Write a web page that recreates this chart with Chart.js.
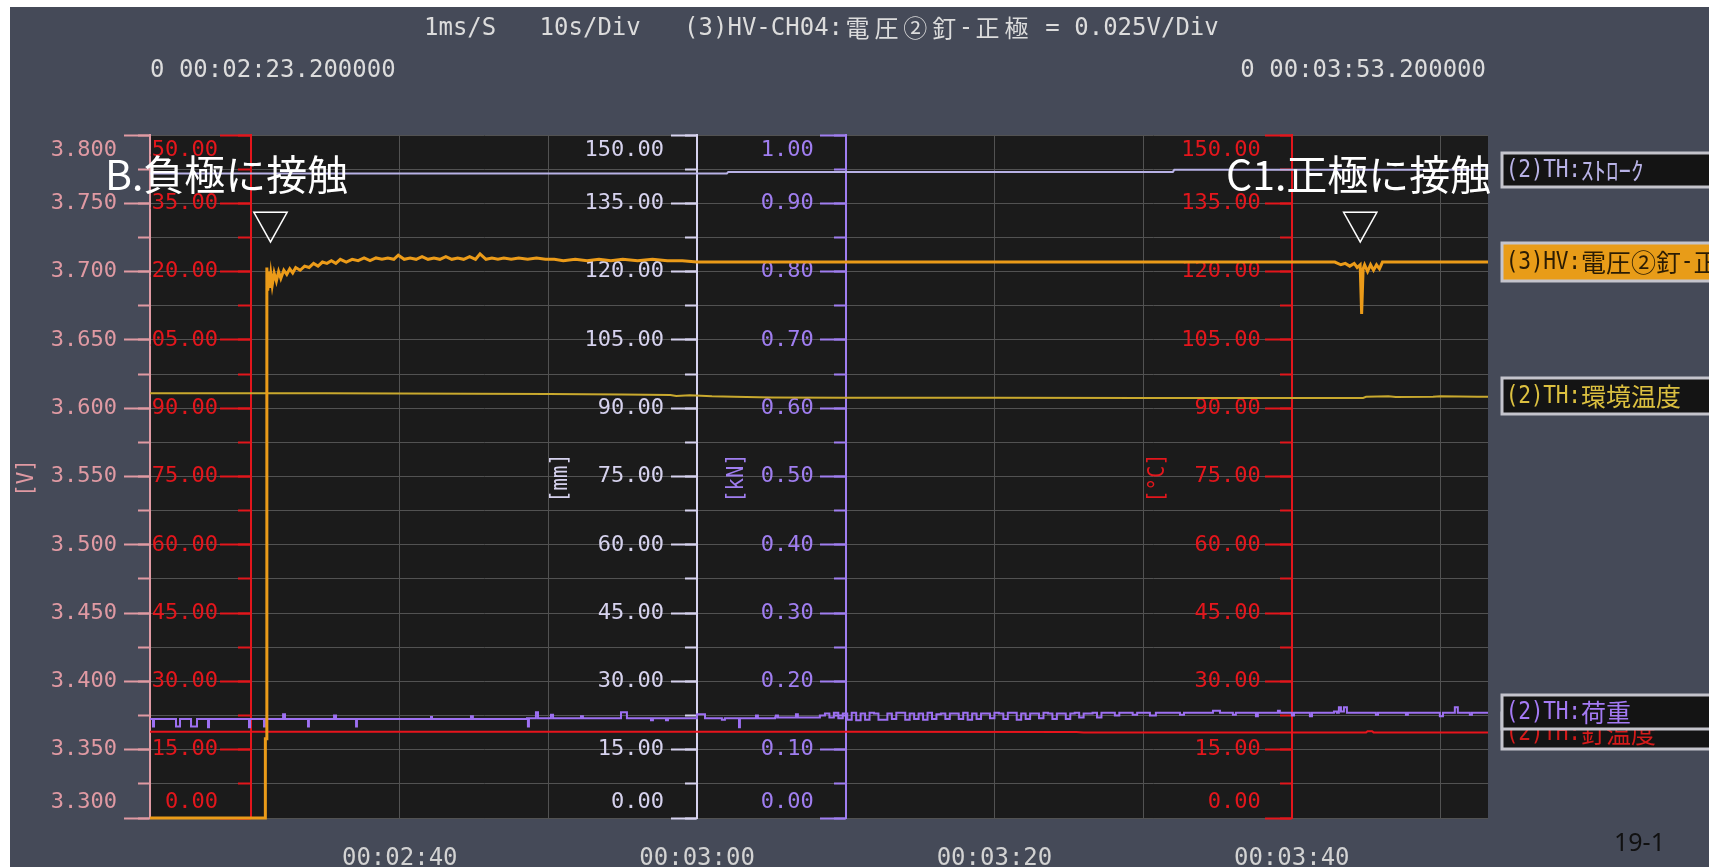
<!DOCTYPE html>
<html><head><meta charset="utf-8">
<script src="https://cdn.jsdelivr.net/npm/chart.js@4.4.1/dist/chart.umd.min.js"></script>
<style>html,body{margin:0;padding:0;background:#454a58;overflow:hidden}canvas{display:block}</style>
</head><body>
<canvas id="c" width="1709" height="867" style="width:1709px;height:867px"></canvas>
<script>
// ---------------- data ----------------
const timeStart = 143.2, timeEnd = 233.2;               // seconds (00:02:23.2 .. 00:03:53.2)
const xGridValues = [150, 160, 170, 180, 190, 200, 210, 220, 230];
const xTickValues = [160, 180, 200, 220];
const xTickLabels = ['00:02:40', '00:03:00', '00:03:20', '00:03:40'];

const headerLine = '1ms/S   10s/Div   (3)HV-CH04:電圧②釘-正極 = 0.025V/Div';
const startLabel = '0 00:02:23.200000';
const endLabel = '0 00:03:53.200000';
const eventLabels = ['B.負極に接触', 'C1.正極に接触'];
const eventTimes = [151.3, 224.6];
const legendNames = ['(2)TH:ｽﾄﾛｰｸ', '(3)HV:電圧②釘-正極', '(2)TH:環境温度', '(2)TH:荷重', '(2)TH:釘温度'];
const axisUnits = ['[V]', '[mm]', '[kN]', '[°C]'];
const pageLabel = '19-1';

// (3)HV 電圧②釘-正極 [V]
const hvTime = [
  143.2, 150.95, 150.96, 151.05, 151.06, 151.12, 151.18, 151.25, 151.33, 151.42,
  151.55, 151.7, 151.85, 152.0, 152.2, 152.4, 152.6, 152.8, 153.0, 153.3,
  153.6, 153.9, 154.2, 154.5, 154.8, 155.1, 155.4, 155.7, 156.0, 156.4,
  156.8, 157.2, 157.6, 158.0, 158.4, 158.8, 159.2, 159.6, 159.9, 160.3,
  160.7, 161.1, 161.5, 161.9, 162.3, 162.7, 163.1, 163.5, 163.9, 164.3,
  164.7, 165.1, 165.4, 165.8, 166.2, 166.6, 167.0, 167.5, 168.0, 168.6,
  169.2, 169.8, 170.4, 171.0, 171.8, 172.6, 173.4, 174.2, 175.0, 176.0,
  177.0, 178.0, 179.0, 180.0, 190.0, 200.0, 210.0, 222.9, 223.3, 223.6,
  223.9, 224.2, 224.4, 224.6, 224.7, 224.8, 224.9, 225.1, 225.3, 225.5,
  225.7, 225.9, 226.1, 226.4, 233.2];
const hvVolt = [
  3.300, 3.300, 3.358, 3.358, 3.703, 3.686, 3.700, 3.688, 3.698, 3.690,
  3.699, 3.693, 3.700, 3.695, 3.701, 3.698, 3.702, 3.699, 3.703, 3.701,
  3.704, 3.703, 3.706, 3.704, 3.707, 3.706, 3.708, 3.706, 3.709, 3.707,
  3.709, 3.708, 3.710, 3.708, 3.710, 3.709, 3.710, 3.709, 3.712, 3.709,
  3.710, 3.709, 3.711, 3.709, 3.710, 3.709, 3.711, 3.709, 3.710, 3.709,
  3.711, 3.709, 3.713, 3.709, 3.710, 3.709, 3.710, 3.709, 3.710, 3.709,
  3.710, 3.709, 3.709, 3.708, 3.709, 3.708, 3.709, 3.708, 3.709, 3.708,
  3.709, 3.708, 3.708, 3.707, 3.707, 3.707, 3.707, 3.707, 3.705, 3.706,
  3.704, 3.706, 3.703, 3.705, 3.669, 3.702, 3.705, 3.700, 3.705, 3.701,
  3.705, 3.702, 3.707, 3.707, 3.707];

// (2)TH ストローク [mm]
const strokeTime = [143.2, 182.0, 182.1, 212.0, 212.1, 233.2];
const strokeMM = [141.55, 141.55, 141.9, 141.9, 142.35, 142.35];

// (2)TH 環境温度 [°C]
const ambTime = [143.2, 155.0, 160.0, 165.0, 170.0, 175.0, 178.2, 178.6, 179.5, 181.0, 182.5, 185.0,
  190.0, 200.0, 210.0, 220.0, 224.8, 225.0, 226.5, 227.0, 229.5, 230.0, 232.5, 233.2];
const ambTemp = [93.3, 93.3, 93.25, 93.15, 93.1, 93.0, 92.9, 92.7, 92.85, 92.6, 92.5, 92.35,
  92.3, 92.3, 92.25, 92.25, 92.25, 92.5, 92.6, 92.45, 92.5, 92.6, 92.5, 92.5];

// (2)TH 荷重 [kN]
const loadTime = [
  143.20, 143.33, 143.40, 143.47, 144.88, 144.95, 145.15, 145.22, 145.89, 145.96,
  146.29, 146.36, 147.03, 147.10, 147.17, 149.79, 149.86, 149.93, 150.80, 150.87,
  150.93, 152.08, 152.15, 152.28, 153.76, 153.83, 153.89, 155.51, 155.58, 155.71,
  156.99, 157.06, 157.12, 160.02, 162.03, 162.10, 162.17, 164.72, 164.79, 164.92,
  168.56, 168.62, 168.69, 169.10, 169.16, 169.30, 170.10, 170.17, 170.31, 172.12,
  172.19, 172.32, 174.81, 174.88, 175.22, 175.28, 176.83, 176.90, 177.03, 177.84,
  177.91, 178.04, 179.86, 179.99, 180.46, 180.53, 181.54, 181.67, 181.87, 182.75,
  182.82, 182.88, 183.89, 183.96, 184.09, 185.24, 185.30, 185.44, 186.58, 186.65,
  186.78, 186.92, 188.26, 188.6, 188.9, 189.2, 189.5, 189.8, 190.1, 190.4,
  190.7, 191.0, 191.3, 191.6, 191.9, 192.2, 192.5, 192.8, 193.1, 193.4,
  193.7, 194.0, 194.3, 194.6, 194.9, 195.2, 195.5, 195.8, 196.1, 196.4,
  196.7, 197.0, 197.3, 197.6, 197.9, 198.2, 198.5, 198.8, 199.1, 199.4,
  199.7, 200.0, 200.3, 200.6, 200.9, 201.2, 201.5, 201.8, 202.1, 202.4,
  202.7, 203.0, 203.3, 203.6, 203.9, 204.2, 204.5, 204.8, 205.1, 205.4,
  205.7, 206.0, 206.3, 206.6, 206.9, 207.2, 207.5, 207.8, 208.1, 208.4,
  208.7, 209.0, 209.3, 209.6, 209.9, 210.46, 210.86, 211.80, 212.48, 212.75,
  214.16, 214.70, 215.17, 215.84, 216.04, 216.24, 217.52, 217.59, 217.72, 218.87,
  219.07, 219.20, 219.88, 220.01, 220.15, 221.15, 221.22, 221.36, 222.57, 222.84,
  223.04, 223.17, 223.31, 223.51, 223.71, 225.59, 225.66, 225.80, 227.61, 227.68,
  227.81, 229.83, 229.96, 230.17, 230.77, 230.97, 231.17, 231.85, 231.98, 232.12,
  233.20];
const loadKN = [
  0.145, 0.145, 0.134, 0.145, 0.145, 0.134, 0.134, 0.145, 0.145, 0.134,
  0.134, 0.145, 0.145, 0.133, 0.145, 0.145, 0.133, 0.145, 0.145, 0.134,
  0.145, 0.145, 0.152, 0.145, 0.145, 0.134, 0.145, 0.145, 0.150, 0.145,
  0.145, 0.134, 0.145, 0.145, 0.145, 0.148, 0.145, 0.145, 0.149, 0.145,
  0.146, 0.134, 0.146, 0.146, 0.155, 0.146, 0.146, 0.151, 0.146, 0.146,
  0.149, 0.146, 0.146, 0.155, 0.155, 0.146, 0.146, 0.143, 0.146, 0.146,
  0.143, 0.146, 0.146, 0.152, 0.152, 0.146, 0.146, 0.144, 0.146, 0.146,
  0.133, 0.146, 0.146, 0.150, 0.146, 0.147, 0.150, 0.147, 0.147, 0.152,
  0.147, 0.147, 0.150, 0.153, 0.147, 0.154, 0.146, 0.153, 0.144, 0.154,
  0.143, 0.153, 0.144, 0.154, 0.153, 0.144, 0.144, 0.153, 0.145, 0.154,
  0.154, 0.144, 0.153, 0.145, 0.153, 0.144, 0.154, 0.145, 0.152, 0.153,
  0.145, 0.153, 0.153, 0.145, 0.154, 0.144, 0.153, 0.145, 0.153, 0.153,
  0.146, 0.154, 0.153, 0.145, 0.154, 0.154, 0.144, 0.153, 0.145, 0.153,
  0.153, 0.146, 0.154, 0.153, 0.145, 0.153, 0.153, 0.145, 0.153, 0.154,
  0.147, 0.153, 0.153, 0.154, 0.147, 0.154, 0.154, 0.154, 0.150, 0.154,
  0.154, 0.154, 0.151, 0.154, 0.154, 0.150, 0.154, 0.154, 0.151, 0.154,
  0.154, 0.157, 0.154, 0.154, 0.151, 0.154, 0.154, 0.149, 0.154, 0.154,
  0.157, 0.154, 0.154, 0.150, 0.154, 0.154, 0.149, 0.154, 0.154, 0.156,
  0.154, 0.162, 0.156, 0.162, 0.154, 0.154, 0.151, 0.154, 0.154, 0.151,
  0.154, 0.154, 0.149, 0.154, 0.154, 0.162, 0.154, 0.154, 0.151, 0.154,
  0.154];

// (2)TH 釘温度 [°C]
const nailTime = [143.2, 160.0, 190.0, 205.5, 206.0, 225.0, 225.1, 225.4, 225.5, 233.2];
const nailTemp = [18.95, 18.95, 18.95, 18.9, 18.8, 18.8, 19.05, 19.05, 18.8, 18.8];

// ---------------- styling ----------------
const W = 1709, H = 867;
const PAGE_BG = '#454a58', PLOT_BG = '#1b1b1b', GRID = '#525252';
const MONO = '"DejaVu Sans Mono", "Liberation Mono", monospace';
const CJK = '"Noto Sans CJK JP", "Noto Sans CJK SC", sans-serif';
const C_PINK = '#e09aa3', C_RED = '#e3161c', C_MM = '#d6d2ee', C_KN = '#a07ef0';
const C_HV = '#eb9b19', C_STROKE = '#b8b2e6', C_AMB = '#c9a92e', C_LOAD = '#9d70f2', C_NAIL = '#e8141c';

const clippedScales = new Set(['yT1']);
class EdgeScale extends Chart.LinearScale {
  _computeLabelItems(chartArea) {
    const items = super._computeLabelItems(chartArea);
    const shift = (this.options.grid.tickLength || 0) + (this.options.ticks.padding || 0);
    for (const it of items) {
      const tr = it.options.translation;
      let y = tr[1];
      if (Math.abs(y - this.top) < 1.5) y += 15;
      else if (Math.abs(y - this.bottom) < 1.5) y -= 16;
      it.options.translation = [tr[0] - shift, y];
      it.options.textAlign = 'right';
    }
    return items;
  }
  draw(chartArea) {
    if (clippedScales.has(this.id)) {
      const ctx = this.ctx;
      ctx.save();
      ctx.beginPath();
      ctx.rect(this.chart.chartArea.left, 0, W, H);
      ctx.clip();
      super.draw(chartArea);
      ctx.restore();
    } else {
      super.draw(chartArea);
    }
  }
}
EdgeScale.id = 'edgeLinear';
EdgeScale.defaults = Chart.LinearScale.defaults;
Chart.register(EdgeScale);

function majorAxis(at, min, max, step, color, tl, pad, digits) {
  return {
    type: 'edgeLinear', axis: 'y', position: {x: at}, min, max,
    ticks: {stepSize: step, color, padding: pad, font: {family: MONO, size: 22},
      maxTicksLimit: 1000, autoSkip: false, callback: v => Number(v).toFixed(digits)},
    grid: {drawOnChartArea: false, tickLength: tl, tickColor: color, tickWidth: 2, color},
    border: {display: true, color, width: 2}
  };
}
function minorAxis(at, min, max, step, color, tl, showGrid) {
  return {
    type: 'edgeLinear', axis: 'y', position: {x: at}, min, max,
    ticks: {stepSize: step, display: false, padding: 0, maxTicksLimit: 1000, autoSkip: false},
    grid: {drawOnChartArea: !!showGrid, color: GRID, lineWidth: 1, tickLength: tl, tickColor: color, tickWidth: 2},
    border: {display: false}
  };
}
function series(times, vals, axis, color, width, extra) {
  return Object.assign({
    data: times.map((t, i) => ({x: t, y: vals[i]})),
    xAxisID: 'x', yAxisID: axis, borderColor: color, borderWidth: width,
    pointRadius: 0, fill: false, tension: 0, clip: {left: 0, top: 0, right: 0, bottom: 3}
  }, extra || {});
}

// ---------- text helpers ----------
function isFull(c) { return (c >= 0x2460 && c <= 0x24FF) || (c >= 0x2E80 && c < 0xFF61) || (c > 0xFF9F && c <= 0xFFEF) || c >= 0x20000; }
function isHalfKana(c) { return c >= 0xFF61 && c <= 0xFF9F; }
function monoWidth(text, half) { let w = 0; for (const ch of text) w += isFull(ch.codePointAt(0)) ? 2 * half : half; return w; }
function drawMono(ctx, text, x, y, half, latin, cjk, sx) {
  sx = sx || 1;
  ctx.textAlign = 'center'; ctx.textBaseline = 'middle';
  let cx = x;
  for (const ch of text) {
    const c = ch.codePointAt(0);
    const full = isFull(c);
    const w = full ? 2 * half : half;
    const useCjk = full || isHalfKana(c);
    ctx.font = useCjk ? cjk : latin;
    ctx.save();
    ctx.translate(cx + w / 2, y);
    if (!useCjk) ctx.scale(sx, 1);
    ctx.fillText(ch, 0, 0);
    ctx.restore();
    cx += w;
  }
  return cx - x;
}

const framePlugin = {
  id: 'frame',
  beforeDraw(chart) {
    const {ctx, chartArea: a} = chart;
    ctx.save();
    ctx.fillStyle = PAGE_BG; ctx.fillRect(0, 0, W, H);
    ctx.fillStyle = '#ffffff'; ctx.fillRect(0, 0, W, 7); ctx.fillRect(0, 0, 10, H);
    ctx.fillStyle = PLOT_BG; ctx.fillRect(a.left, a.top, a.right - a.left, a.bottom - a.top);
    ctx.restore();
  },
  afterDraw(chart) {
    const ctx = chart.ctx;
    const xs = chart.scales.x;
    ctx.save();
    // header
    ctx.fillStyle = '#dcdcdc';
    drawMono(ctx, headerLine, 424, 28, 14.45, '25px ' + MONO, '24px ' + CJK, 0.96);
    drawMono(ctx, startLabel, 150, 70, 14.45, '25px ' + MONO, '24px ' + CJK, 0.96);
    drawMono(ctx, endLabel, 1486 - monoWidth(endLabel, 14.45), 70, 14.45, '25px ' + MONO, '24px ' + CJK, 0.96);
    // axis unit titles (rotated)
    const unitPos = [[27, C_PINK], [561, C_MM], [737, C_KN], [1158, C_RED]];
    axisUnits.forEach((u, i) => {
      ctx.save();
      ctx.translate(unitPos[i][0], 478);
      ctx.rotate(-Math.PI / 2);
      ctx.fillStyle = unitPos[i][1];
      drawMono(ctx, u, -monoWidth(u, 12.4) / 2, 0, 12.4, '23px ' + MONO, '21px ' + CJK, 0.9);
      ctx.restore();
    });
    // event annotations
    ctx.fillStyle = '#ffffff';
    ctx.font = '41px ' + CJK; ctx.textAlign = 'left'; ctx.textBaseline = 'middle';
    ctx.fillText(eventLabels[0], 105, 174);
    ctx.fillText(eventLabels[1], 1226, 174);
    ctx.font = '38px ' + CJK; ctx.textAlign = 'center';
    eventTimes.forEach(t => ctx.fillText('▽', xs.getPixelForValue(t), 226));
    // legend boxes
    const boxes = [
      {name: legendNames[4], y: 713, h: 36, fill: '#141414', text: '#d41a1a', dy: 2},
      {name: legendNames[0], y: 153, h: 34, fill: '#141414', text: C_STROKE, dy: 0},
      {name: legendNames[1], y: 243, h: 38, fill: '#e89c18', text: '#2b1c04', dy: 0},
      {name: legendNames[2], y: 378, h: 36, fill: '#141414', text: '#dcc040', dy: 0},
      {name: legendNames[3], y: 695, h: 34, fill: '#141414', text: '#a47af4', dy: 0}
    ];
    boxes.forEach(b => {
      ctx.fillStyle = b.fill; ctx.fillRect(1502, b.y, 240, b.h);
      ctx.strokeStyle = '#c4c4cc'; ctx.lineWidth = 3; ctx.strokeRect(1502, b.y, 240, b.h);
      ctx.fillStyle = b.text;
      drawMono(ctx, b.name, 1506, b.y + b.h / 2 + b.dy, 12.5, '25px ' + MONO, '25px ' + CJK, 0.85);
    });
    // page number
    ctx.fillStyle = '#111111'; ctx.font = '25px "Noto Sans", sans-serif';
    ctx.textAlign = 'left'; ctx.textBaseline = 'middle';
    ctx.fillText(pageLabel, 1614, 844);
    ctx.restore();
  }
};

new Chart(document.getElementById('c'), {
  type: 'line',
  data: {
    datasets: [
      series(hvTime, hvVolt, 'yV', C_HV, 3),
      series(strokeTime, strokeMM, 'yMM', C_STROKE, 2),
      series(ambTime, ambTemp, 'yT2', C_AMB, 2),
      series(loadTime, loadKN, 'yKN', C_LOAD, 2, {stepped: true}),
      series(nailTime, nailTemp, 'yT1', C_NAIL, 2)
    ]
  },
  options: {
    responsive: false, animation: false, devicePixelRatio: 1,
    layout: {padding: {left: 150, top: 135, right: W - 1488, bottom: H - 818}},
    plugins: {legend: {display: false}, tooltip: {enabled: false}, title: {display: false}},
    events: [],
    scales: {
      x: {
        type: 'linear', position: {yVg: 3.3}, min: timeStart, max: timeEnd,
        afterBuildTicks: s => { s.ticks = xGridValues.map(v => ({value: v})); },
        ticks: {color: '#d2d2d2', font: {family: MONO, size: 24}, padding: 26, autoSkip: false,
          maxRotation: 0, minRotation: 0,
          callback: v => { const i = xTickValues.indexOf(v); return i >= 0 ? xTickLabels[i] : ''; }},
        grid: {color: GRID, lineWidth: 1, drawTicks: false},
        border: {display: false}
      },
      yVg: minorAxis(timeStart, 3.3, 3.8, 0.025, C_PINK, 12, true),
      yV: majorAxis(timeStart, 3.3, 3.8, 0.05, C_PINK, 25, 8, 3),
      yT1m: minorAxis(150, 0, 150, 7.5, C_RED, 13, false),
      yT1: majorAxis(150, 0, 150, 15, C_RED, 30, 3, 2),
      yMMm: minorAxis(180, 0, 150, 7.5, C_MM, 12, false),
      yMM: majorAxis(180, 0, 150, 15, C_MM, 25, 8, 2),
      yKNm: minorAxis(190, 0, 1, 0.05, C_KN, 12, false),
      yKN: majorAxis(190, 0, 1, 0.1, C_KN, 25, 7, 2),
      yT2m: minorAxis(220, 0, 150, 7.5, C_RED, 12, false),
      yT2: majorAxis(220, 0, 150, 15, C_RED, 26, 5, 2)
    }
  },
  plugins: [framePlugin]
});
</script>
</body></html>
